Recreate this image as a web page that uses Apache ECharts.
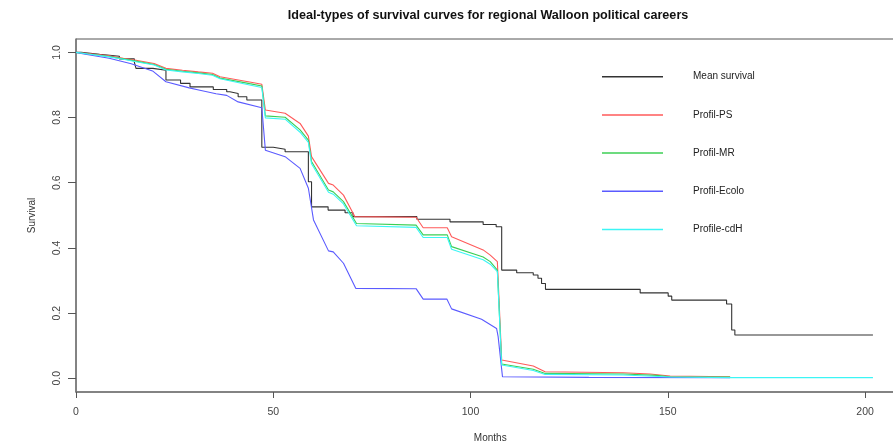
<!DOCTYPE html>
<html>
<head>
<meta charset="utf-8">
<script src="https://cdn.jsdelivr.net/npm/echarts@6/dist/echarts.min.js"></script>
<style>html,body{margin:0;padding:0;background:#fff;}#chart{width:893px;height:447px;}</style>
</head>
<body>
<div id="chart"></div>
<script>
const titleText = "Ideal-types of survival curves for regional Walloon political careers";
const seriesNames = ["Mean survival", "Profil-PS", "Profil-MR", "Profil-Ecolo", "Profile-cdH"];
const xTicks = [0, 50, 100, 150, 200];
const yTicks = [0, 0.2, 0.4, 0.6, 0.8, 1.0];

const meanSurvival = [[0,1.0],[1.3,0.994],[6,0.988],[11,0.980],[14.8,0.969],[15.2,0.951],[19.5,0.945],[22.8,0.915],[26.5,0.905],[28.9,0.894],[34.8,0.886],[38.2,0.879],[39,0.874],[41.1,0.864],[43.3,0.854],[47.1,0.709],[50,0.703],[53,0.695],[58.9,0.603],[59.7,0.526],[63.9,0.516],[68.2,0.508],[70.2,0.496],[86.4,0.488],[94.8,0.480],[103.2,0.472],[106.5,0.465],[107.9,0.332],[111.7,0.324],[115.9,0.317],[117.1,0.307],[118,0.291],[119,0.273],[143,0.262],[150.1,0.252],[151,0.240],[164.9,0.228],[166.2,0.148],[167,0.133],[202,0.133]];

const profilPS = [[0,1],[3,0.996],[8,0.990],[12,0.982],[15.2,0.976],[19.8,0.966],[22.8,0.951],[27,0.945],[31,0.940],[34.6,0.936],[36.5,0.925],[44,0.909],[47.1,0.902],[48,0.823],[53,0.813],[56.8,0.782],[58.9,0.743],[59.7,0.680],[64,0.598],[65.2,0.593],[67.8,0.562],[70.7,0.496],[71.2,0.494],[86.2,0.494],[88,0.462],[94.1,0.462],[95.2,0.434],[103.2,0.394],[105,0.378],[106.8,0.358],[107.9,0.056],[115.9,0.038],[118.9,0.020],[138.7,0.017],[145.5,0.013],[150.6,0.007],[165.8,0.005]];

const profilMR = [[0,1],[3,0.995],[8,0.988],[12,0.980],[15.2,0.973],[19.8,0.963],[22.8,0.948],[27,0.942],[31,0.937],[34.6,0.932],[36.5,0.921],[44,0.904],[47.1,0.897],[48,0.805],[53,0.801],[56.8,0.762],[58.9,0.731],[59.7,0.665],[64,0.578],[65.2,0.572],[67.8,0.542],[71.1,0.475],[71.6,0.470],[86.2,0.470],[88,0.440],[94.1,0.440],[95.2,0.404],[103.2,0.372],[105,0.358],[106.8,0.332],[107.9,0.044],[115.9,0.028],[118.9,0.015],[138.7,0.013],[147.2,0.009],[150.6,0.005],[165.8,0.004]];

const profilEcolo = [[0,1],[2,0.995],[8.4,0.982],[14,0.965],[19.4,0.943],[22.8,0.910],[28.7,0.891],[31.4,0.884],[35.5,0.873],[38.2,0.868],[41.1,0.848],[47.1,0.830],[48,0.700],[53,0.680],[56.8,0.644],[58.9,0.583],[60.2,0.486],[64,0.391],[65.2,0.388],[67.8,0.353],[70.9,0.276],[86.2,0.275],[88,0.243],[94,0.243],[95.2,0.213],[102.8,0.181],[106.6,0.153],[107,0.128],[108.1,0.005],[130,0.003],[165.8,0.002]];

const profileCdH = [[0,1],[3,0.995],[8,0.987],[12,0.979],[15.2,0.971],[19.8,0.961],[22.8,0.946],[27,0.940],[31,0.935],[34.6,0.930],[36.5,0.919],[44,0.900],[47.1,0.892],[48,0.799],[53,0.795],[56.8,0.755],[58.9,0.724],[59.7,0.658],[64,0.571],[65.2,0.565],[67.8,0.535],[71.1,0.468],[71.6,0.463],[86.2,0.463],[88,0.432],[94.1,0.432],[95.2,0.396],[103.2,0.364],[105,0.350],[106.8,0.327],[107.9,0.041],[115.9,0.024],[118.9,0.012],[138.7,0.010],[150.6,0.004],[165.8,0.002],[202,0.002]];

const seriesData = [meanSurvival, profilPS, profilMR, profilEcolo, profileCdH];
const colors = ['#333333', '#ff5a5a', '#3ccf55', '#5a5aff', '#3cf5f5'];

const chart = echarts.init(document.getElementById('chart'), null, {renderer: 'canvas'});
const font = 'Liberation Sans, Arial, sans-serif';
chart.setOption({
  animation: false,
  backgroundColor: '#ffffff',
  title: {
    text: titleText,
    left: 483, top: 4, textAlign: 'center',
    textStyle: {fontFamily: font, fontSize: 12.6, fontWeight: 'bold', color: '#111'}
  },
  legend: {
    orient: 'vertical', left: 602, top: 69.7, padding: 0,
    icon: 'rect',
    itemWidth: 61, itemHeight: 1.5, itemGap: 24.2,
    data: seriesNames,
    textStyle: {fontFamily: font, fontSize: 10, lineHeight: 14, color: '#222', padding: [0, 0, 0, 25]}
  },
  grid: {left: 76, width: 828.5, top: 39, bottom: 55, outerBoundsMode: 'none', containLabel: false,
    show: true, borderColor: '#555', borderWidth: 1, backgroundColor: 'transparent'},
  xAxis: {
    type: 'value', min: 0, max: 210,
    name: 'Months', nameLocation: 'middle', nameGap: 41,
    nameTextStyle: {fontFamily: font, fontSize: 10, color: '#333'},
    axisLine: {show: true, onZero: false, lineStyle: {color: '#777', width: 1.5}},
    axisTick: {show: true, length: 6, lineStyle: {color: '#555'}, customValues: xTicks},
    axisLabel: {fontFamily: font, fontSize: 10.5, color: '#444', margin: 15, customValues: xTicks},
    splitLine: {show: false}
  },
  yAxis: {
    type: 'value', min: -0.042, max: 1.041,
    name: 'Survival', nameLocation: 'middle', nameGap: 39,
    nameTextStyle: {fontFamily: font, fontSize: 10, color: '#333'},
    axisLine: {show: true, onZero: false, lineStyle: {color: '#777', width: 1.5}},
    axisTick: {show: true, length: 8, lineStyle: {color: '#555'}, customValues: yTicks},
    axisLabel: {fontFamily: font, fontSize: 10.5, color: '#444', margin: 13, rotate: 90,
      customValues: yTicks, formatter: v => v.toFixed(1)},
    splitLine: {show: false}
  },
  series: seriesData.map((d, i) => ({
    name: seriesNames[i], type: 'line', data: d,
    step: i === 0 ? 'end' : false,
    showSymbol: false, symbol: 'none',
    lineStyle: {color: colors[i], width: 1.1},
    itemStyle: {color: colors[i]},
    z: 2 + i
  }))
});
</script>
</body>
</html>
